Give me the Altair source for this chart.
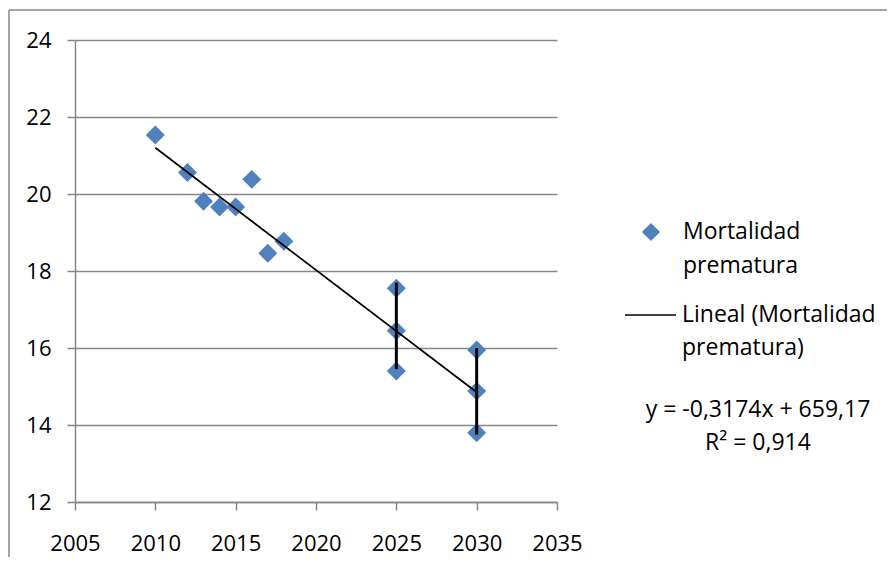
import altair as alt
import pandas as pd

# --- data ---
years = [2010, 2012, 2013, 2014, 2015, 2016, 2017, 2018, 2025, 2025, 2025, 2030, 2030, 2030]
mortalidad = [21.53, 20.56, 19.81, 19.66, 19.66, 20.38, 18.46, 18.77, 17.55, 16.45, 15.40, 15.95, 14.88, 13.80]

err_years = [2025, 2030]
err_low = [15.45, 13.75]
err_high = [17.70, 16.00]

trend_x = [2010, 2030]
trend_y = [21.20, 14.85]

x_ticks = [2005, 2010, 2015, 2020, 2025, 2030, 2035]
y_ticks = [12, 14, 16, 18, 20, 22, 24]

series_name = ["Mortalidad", "prematura"]
trend_name = ["Lineal (Mortalidad", "prematura)"]
equation = "y = -0,3174x + 659,17"
r2_text = "R² = 0,914"

BLUE = "#4F81BD"
GRAY = "#868686"
FONT = "Open Sans"

pts = pd.DataFrame({"year": years, "value": mortalidad})
errs = pd.DataFrame({"year": err_years, "lo": err_low, "hi": err_high})
trend = pd.DataFrame({"year": trend_x, "value": trend_y})
one = pd.DataFrame({"k": [0]})

xs = alt.Scale(domain=[2005, 2035], nice=False, zero=False)
ys = alt.Scale(domain=[12, 24], nice=False, zero=False)

xax = alt.Axis(values=x_ticks, format="d", title=None, grid=False, labelPadding=23,
               labelFlush=False, labelOverlap=False)
yax = alt.Axis(values=y_ticks, title=None, grid=True, labelPadding=16,
               labelFlush=False, labelOverlap=False)

points = alt.Chart(pts).mark_point(shape="diamond", filled=True, size=360, color=BLUE, opacity=1).encode(
    x=alt.X("year:Q", scale=xs, axis=xax),
    y=alt.Y("value:Q", scale=ys, axis=yax),
)

errbars = alt.Chart(errs).mark_rule(color="black", strokeWidth=3).encode(
    x=alt.X("year:Q", scale=xs),
    y=alt.Y("lo:Q", scale=ys),
    y2="hi:Q",
)

trendline = alt.Chart(trend).mark_line(color="black", strokeWidth=1.7).encode(
    x=alt.X("year:Q", scale=xs),
    y=alt.Y("value:Q", scale=ys),
)

def txt(s, x, y, align="left"):
    return alt.Chart(one).mark_text(text=s, font=FONT, fontSize=23, align=align, baseline="middle", color="black").encode(
        x=alt.value(x), y=alt.value(y)
    )

leg_sym = alt.Chart(one).mark_point(shape="diamond", filled=True, size=330, color=BLUE, opacity=1).encode(
    x=alt.value(576), y=alt.value(192)
)
leg_line = alt.Chart(one).mark_rule(color="black", strokeWidth=1.7).encode(
    x=alt.value(550), x2=alt.value(601), y=alt.value(275)
)
frame_top = alt.Chart(one).mark_rule(color=GRAY, strokeWidth=1.5).encode(
    x=alt.value(-66), x2=alt.value(830), y=alt.value(-30)
)
frame_left = alt.Chart(one).mark_rule(color=GRAY, strokeWidth=1.5).encode(
    x=alt.value(-66), y=alt.value(-30), y2=alt.value(530)
)

chart = alt.layer(
    frame_top, frame_left,
    points, errbars, trendline,
    leg_sym, txt(series_name[0], 608, 192), txt(series_name[1], 608, 226),
    leg_line, txt(trend_name[0], 607, 275), txt(trend_name[1], 607, 308),
    txt(equation, 683, 370, "center"), txt(r2_text, 683, 403, "center"),
).properties(
    width=482, height=462,
    autosize=alt.AutoSizeParams(type="none"),
    padding={"left": 67, "top": 32, "right": 330, "bottom": 55},
).configure_view(stroke=None).configure_axis(
    domainColor=GRAY, domainWidth=1.5, tickColor=GRAY, tickWidth=1.5, tickSize=8,
    gridColor=GRAY, gridWidth=1.5, labelColor="black", labelFont=FONT, labelFontSize=22,
)

chart.save("out.html", embed_options={"renderer": "svg", "actions": False})
